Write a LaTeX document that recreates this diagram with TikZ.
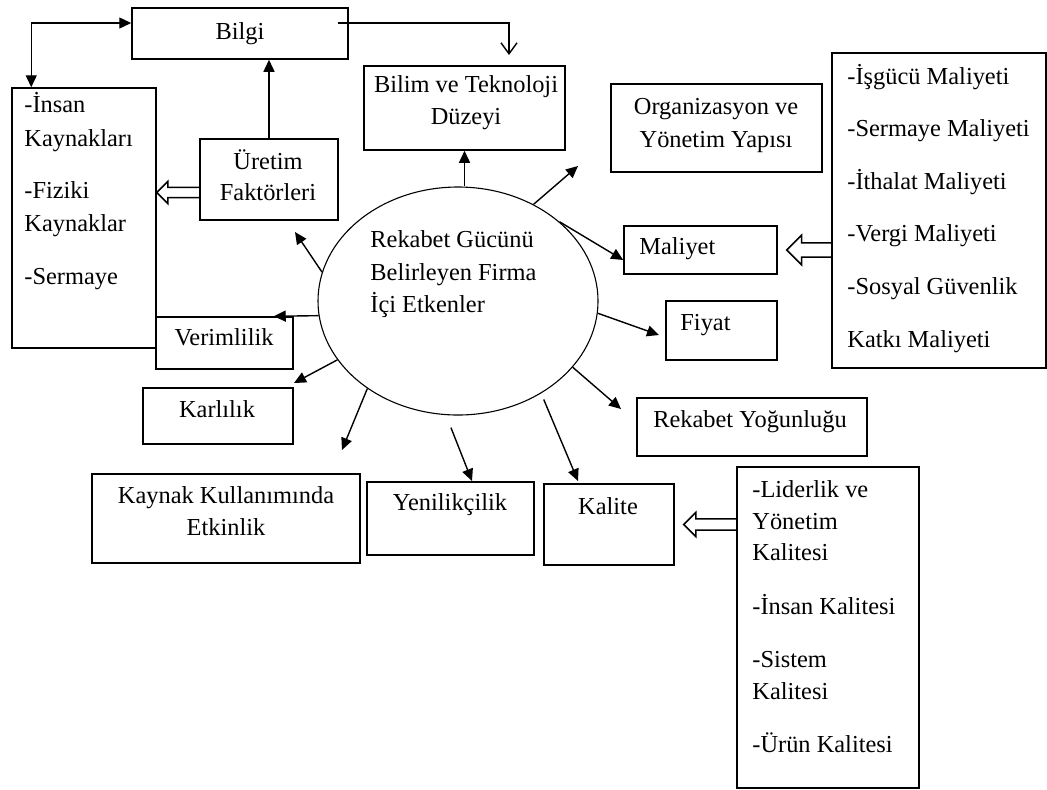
\documentclass[tikz,border=0pt]{standalone}
\usepackage{fontspec}
\setmainfont{Liberation Serif}
\usetikzlibrary{shapes.geometric, arrows.meta, fit, calc}

\tikzset{
    box/.style={draw, line width=0.75pt, inner sep=0pt},
    txt/.style={font=\fontsize{12.2}{14}\selectfont, inner sep=0pt},
    arr/.style={line width=0.7pt, -{Triangle[length=6pt,width=5.5pt]}},
    fat/.style={line width=0.75pt}
}
% wide open arrow, pointing left: #1 = size, #2 = tail, #3 = tip
\newcommand{\fatarrow}[3][1]{%
    \draw[fat] let \p1=(#2), \p2=(#3) in
        (\x1,\y1+2.6pt*#1) -- (\x2+5.5pt*#1,\y1+2.6pt*#1) -- (\x2+5.5pt*#1,\y1+5.5pt*#1) -- (\x2,\y1)
        -- (\x2+5.5pt*#1,\y1-5.5pt*#1) -- (\x2+5.5pt*#1,\y1-2.6pt*#1) -- (\x1,\y1-2.6pt*#1);}

\begin{document}
\begin{tikzpicture}[x=0.5pt, y=-0.5pt]
    \useasboundingbox (0,0) rectangle (1047,789);
    % Boxes
    \node[box, fit={(132,8) (348,59)}] (bilgi) {};
    \node[box, fit={(364,66) (565,150)}] (bilim) {};
    \node[box, fit={(611,84) (822,172)}] (org) {};
    \node[box, fit={(200,139) (338,220)}] (uretim) {};
    \node[box, fit={(12,88) (156,348)}] (insan) {};
    \node[box, fit={(156,317) (293,369)}] (verim) {};
    \node[box, fit={(143,388) (293,444)}] (karl) {};
    \node[box, fit={(92,474) (360,563)}] (kaynak) {};
    \node[box, fit={(367,482) (534,555)}] (yeni) {};
    \node[box, fit={(544,484) (674,565)}] (kal) {};
    \node[box, fit={(737,467) (919,788)}] (kallist) {};
    \node[box, fit={(637,398) (867,456)}] (reky) {};
    \node[box, fit={(666,301) (777,360)}] (fiyat) {};
    \node[box, fit={(624,226) (777,274)}] (mal) {};
    \node[box, fit={(832,53) (1046,368)}] (mallist) {};
    % Ellipse
    \node[draw, ellipse, line width=0.55pt, inner sep=0pt,
        minimum width=140pt, minimum height=114pt] (ell) at (458,301) {};
    % Texts
    \foreach \nm/\txt/\x/\y in {bilgi/Bilgi/240/39, bilim1/Bilim ve Teknoloji/466/92,
        bilim2/Düzeyi/466/124, org1/Organizasyon ve/716/114, org2/Yönetim Yapısı/716/147,
        uretim1/Üretim/268/169, uretim2/Faktörleri/268/200, verim/Verimlilik/224/345,
        karl/Karlılık/217/417, kaynak1/Kaynak Kullanımında/226/503, kaynak2/Etkinlik/226/535,
        yeni/Yenilikçilik/450/510, kal/Kalite/608/514, reky/Rekabet Yoğunluğu/750/427} {
        \node[txt, anchor=base] (\nm-t) at (\x,\y) {\txt};
    }
    \foreach \nm/\txt/\x/\y in {mal/Maliyet/639/254, fiyat/Fiyat/680/330,
        ell1/Rekabet Gücünü/370/247, ell2/Belirleyen Firma/370/280, ell3/İçi Etkenler/370/312} {
        \node[txt, anchor=base west] (\nm-t) at (\x,\y) {\txt};
    }
    \foreach \txt/\i/\y in {-İnsan/1/112, Kaynakları/2/146, -Fiziki/3/198,
        Kaynaklar/4/231, -Sermaye/5/284} {
        \node[txt, anchor=base west] (insan-\i) at (24,\y) {\txt};
    }
    \foreach \txt/\i in {-İşgücü Maliyeti/1, -Sermaye Maliyeti/2, -İthalat Maliyeti/3,
        -Vergi Maliyeti/4, -Sosyal Güvenlik/5, Katkı Maliyeti/6} {
        \node[txt, anchor=base west] (mallist-\i) at (847,{84+52.6*(\i-1)}) {\txt};
    }
    \foreach \txt/\i/\y in {-Liderlik ve/1/497, Yönetim/2/529, Kalitesi/3/560,
        -İnsan Kalitesi/4/614, -Sistem/5/667, Kalitesi/6/699, -Ürün Kalitesi/7/752} {
        \node[txt, anchor=base west] (kallist-\i) at (752,\y) {\txt};
    }
    % Arrow ends
    \coordinate (bilimtip) at (509,55);
    \coordinate (orgtip) at (578,166);
    \coordinate (fiyattip) at (659,335);
    \coordinate (rekytip) at (621,409);
    \coordinate (kaltip) at (578,481);
    \coordinate (yenitip) at (472,481);
    \coordinate (kaynaktip) at (342,450);
    \coordinate (karltip) at (294,383);
    \coordinate (uretimtip) at (295,232);
    % Arrows
    \draw[line width=0.7pt, {Triangle[length=6pt,width=5.5pt]}-{Triangle[length=6pt,width=5.5pt]}]
        ([yshift=5.25pt]bilgi.west) -| ([xshift=10pt]insan.north west);
    \draw[line width=0.7pt, -{Straight Barb[length=5.5pt,width=8pt]}]
        ([xshift=-5.5pt, yshift=5.25pt]bilgi.east) -| (bilimtip);
    \draw[arr] (uretim.north) -- (uretim.north |- bilgi.south);
    \draw[arr] (bilim.south |- ell.north) -- (bilim.south);
    \draw[arr] (ell.52) -- (orgtip);
    \draw[arr] (ell.38) -- ([yshift=-5pt]mal.west);
    \draw[arr] (ell.-5) -- (fiyattip);
    \draw[arr] (ell.-30) -- (rekytip);
    \draw[arr, shorten <=3.3pt] (ell.-48) -- (kaltip);
    \draw[arr, shorten <=6.7pt] (ell.-96) -- (yenitip);
    \draw[arr] (ell.224) -- (kaynaktip);
    \draw[arr] (ell.206) -- (karltip);
    \draw[arr] (ell.186) -- ([xshift=-10pt]verim.north east);
    \draw[arr] (ell.168) -- (uretimtip);
    % Wide arrows
    \fatarrow{[yshift=-6.5pt]uretim.west}{insan.east}
    \fatarrow[1.35]{mallist.west |- mal}{[xshift=4.5pt]mal.east}
    \fatarrow[1.1]{kallist.west |- kal}{[xshift=4.5pt]kal.east}
\end{tikzpicture}
\end{document}
